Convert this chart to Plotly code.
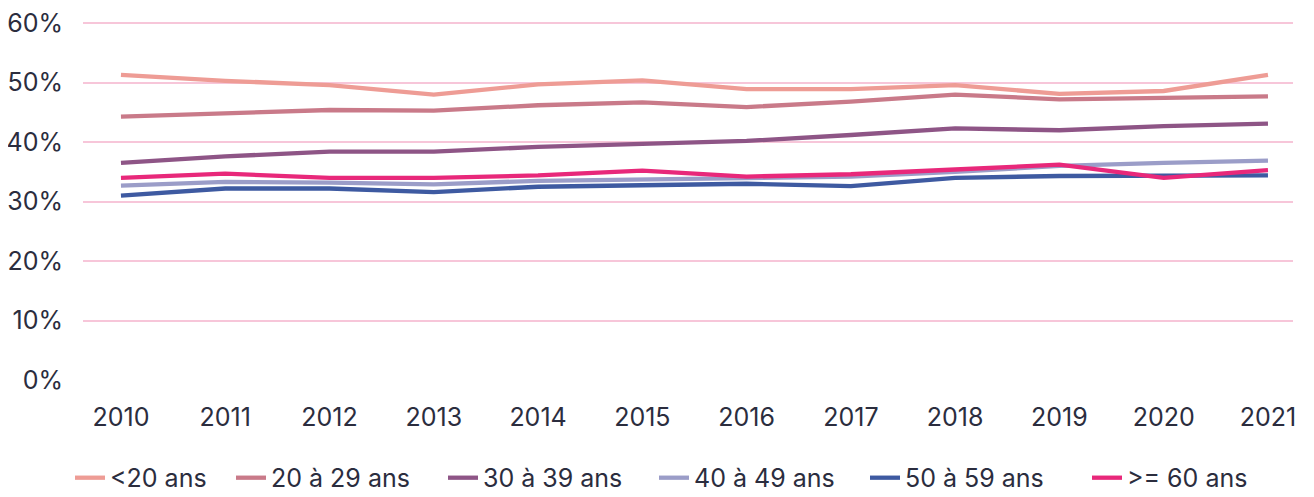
import plotly.graph_objects as go

years = [2010, 2011, 2012, 2013, 2014, 2015, 2016, 2017, 2018, 2019, 2020, 2021]

under_20 = [51.3, 50.3, 49.6, 48.0, 49.7, 50.4, 48.9, 48.9, 49.6, 48.1, 48.6, 51.3]
age_20_29 = [44.3, 44.9, 45.4, 45.3, 46.2, 46.7, 45.9, 46.8, 48.0, 47.2, 47.4, 47.7]
age_30_39 = [36.5, 37.6, 38.4, 38.4, 39.2, 39.7, 40.2, 41.2, 42.3, 42.0, 42.7, 43.1]
age_40_49 = [32.7, 33.3, 33.2, 32.9, 33.5, 33.7, 33.9, 34.2, 35.0, 36.0, 36.5, 36.9]
age_50_59 = [31.0, 32.2, 32.2, 31.6, 32.5, 32.7, 33.0, 32.6, 34.0, 34.3, 34.4, 34.4]
over_60 = [34.0, 34.7, 34.0, 34.0, 34.4, 35.2, 34.2, 34.6, 35.4, 36.2, 34.0, 35.3]

series = [
    ("<20 ans", under_20, "#EE9C95"),
    ("20 à 29 ans", age_20_29, "#C97A89"),
    ("30 à 39 ans", age_30_39, "#8E5586"),
    ("40 à 49 ans", age_40_49, "#9B9DC8"),
    ("50 à 59 ans", age_50_59, "#3E5AA1"),
    (">= 60 ans", over_60, "#E8287A"),
]

# x (page pixels) where each legend label's text starts; Excel spaces them unevenly
legend_text_px = [113, 274, 486, 697, 908, 1130]

# the html page has an 8px body margin, so the figure is a bit smaller than the window
W, H = 1306, 489
plot_l, plot_r = 75, 1285
fig = go.Figure()
layout_legends = {}
for i, (name, vals, color) in enumerate(series):
    key = "legend" if i == 0 else "legend%d" % (i + 1)
    fig.add_trace(go.Scatter(
        x=years, y=[v / 100 for v in vals], name=name, mode="lines",
        line=dict(color=color, width=4.3), legend=key, showlegend=True))
    layout_legends[key] = dict(
        xref="container", x=(legend_text_px[i] - 51) / W, xanchor="left",
        yref="container", y=0.086, yanchor="top", orientation="h",
        font=dict(size=25), itemwidth=30, bgcolor="rgba(0,0,0,0)")

text_color = "#2B2D3E"
fig.update_layout(
    width=W, height=H, showlegend=True,
    margin=dict(l=plot_l, r=W - plot_r, t=14, b=117),
    plot_bgcolor="white", paper_bgcolor="white",
    font=dict(family="Inter", size=25, color=text_color),
    xaxis=dict(range=[2009.636, 2021.24], tickvals=years, showgrid=False,
               zeroline=False, showline=False, ticklabelstandoff=20,
               automargin=False),
    yaxis=dict(range=[0, 0.602], tickvals=[0, 0.1, 0.2, 0.3, 0.4, 0.5, 0.6],
               tickformat=".0%", gridcolor="#F7C6D9", ticklabeloverflow="allow",
               gridwidth=1.5, zeroline=False, showline=False, ticklabelstandoff=19,
               automargin=False),
    **layout_legends,
)

fig.write_html("out.html")
